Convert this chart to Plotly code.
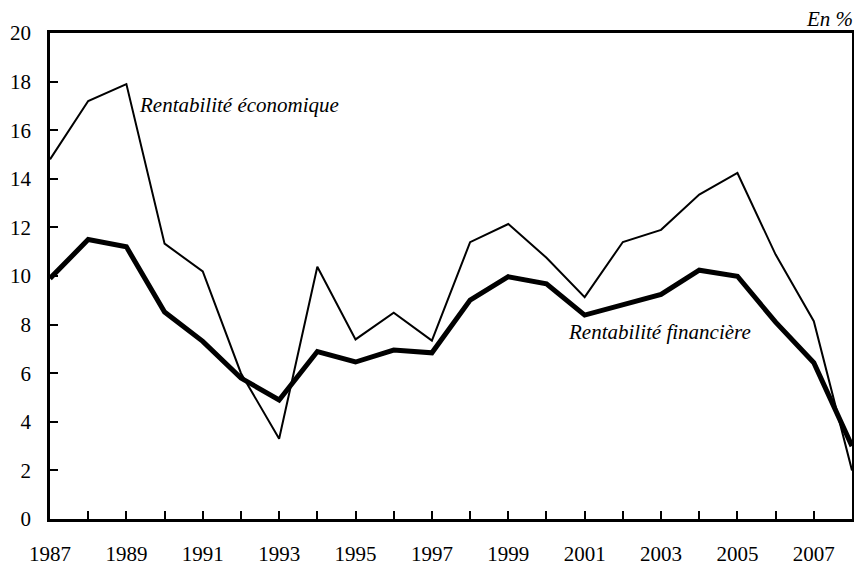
import plotly.graph_objects as go

years = list(range(1987, 2009))
rentabilite_economique = [14.8, 17.2, 17.9, 11.33, 10.19, 6.0, 3.3, 10.38, 7.39, 8.49, 7.34,
                          11.39, 12.14, 10.75, 9.13, 11.4, 11.9, 13.35, 14.24, 10.88, 8.14, 2.0]
rentabilite_financiere = [9.9, 11.5, 11.2, 8.52, 7.31, 5.8, 4.9, 6.89, 6.46, 6.95, 6.84,
                          9.01, 9.97, 9.68, 8.39, 8.83, 9.24, 10.24, 9.99, 8.1, 6.43, 3.0]
tick_labels = [str(y) if (y % 2 == 1 and y < 2008) else "" for y in years]
y_ticks = list(range(0, 21, 2))

FONT = "Liberation Serif"

fig = go.Figure()
fig.add_trace(go.Scatter(x=years, y=rentabilite_economique, mode="lines",
                         line=dict(color="black", width=2), name="Rentabilité économique"))
fig.add_trace(go.Scatter(x=years, y=rentabilite_financiere, mode="lines",
                         line=dict(color="black", width=5), name="Rentabilité financière"))

fig.add_annotation(x=1989.28, y=17.05, xref="x", yref="y", text="Rentabilité économique",
                   showarrow=False, xanchor="left", yanchor="middle",
                   font=dict(family=FONT, size=21, color="black", style="italic"))
fig.add_annotation(x=2000.52, y=7.7, xref="x", yref="y", text="Rentabilité financière",
                   showarrow=False, xanchor="left", yanchor="middle",
                   font=dict(family=FONT, size=21, color="black", style="italic"))
fig.add_annotation(x=1, y=1, xref="paper", yref="paper", text="En %",
                   showarrow=False, xanchor="right", yanchor="bottom", xshift=3, yshift=0,
                   font=dict(family=FONT, size=21, color="black", style="italic"))

fig.update_layout(
    width=854, height=565,
    margin=dict(l=50, r=2, t=33, b=46, autoexpand=False),
    paper_bgcolor="white", plot_bgcolor="white",
    showlegend=False,
    font=dict(family=FONT, size=21, color="black"),
)
fig.update_xaxes(range=[1987, 2008], tickmode="array", tickvals=years, ticktext=tick_labels,
                 ticks="inside", ticklen=8, tickwidth=2, tickcolor="black",
                 showline=True, linecolor="black", linewidth=2.5, mirror=True,
                 showgrid=False, zeroline=False, ticklabelstandoff=14, tickangle=0,
                 automargin=False)
fig.update_yaxes(range=[0, 20], tickmode="array", tickvals=y_ticks,
                 ticks="inside", ticklen=8, tickwidth=2, tickcolor="black",
                 showline=True, linecolor="black", linewidth=2.5, mirror=True,
                 showgrid=False, zeroline=False, ticklabelstandoff=12,
                 automargin=False)

fig.write_html("out.html", config={"displayModeBar": False},
               post_script="document.body.style.margin='0';")
